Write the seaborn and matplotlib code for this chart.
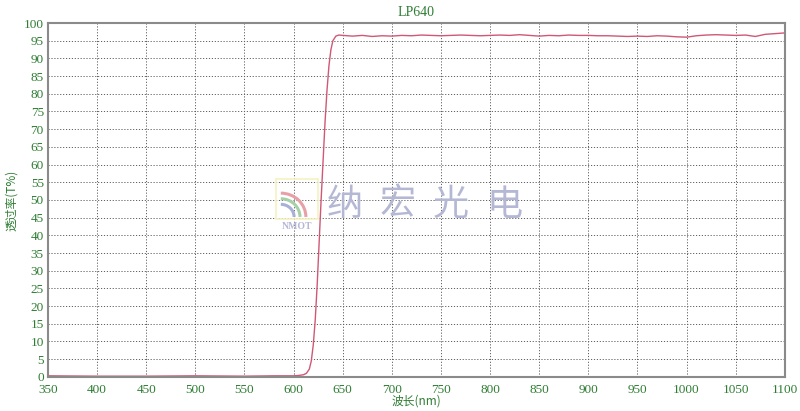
import numpy as np
import pandas as pd
import matplotlib
matplotlib.use("Agg")
import matplotlib.pyplot as plt
import matplotlib.patches as mpatches
import seaborn as sns

# transmission curve of LP640 long-pass filter
wavelength = [350, 400, 450, 500, 550, 580, 600, 605, 610, 613, 616, 618, 620, 622, 624,
              626, 628, 630, 632, 634, 636, 638, 640, 643, 646,
              650, 660, 670, 680, 690, 700, 710, 720, 730, 740, 750, 760, 770, 780, 790,
              800, 810, 820, 830, 840, 850, 860, 870, 880, 890, 900, 910, 920, 930, 940,
              950, 960, 970, 980, 990, 1000, 1010, 1020, 1030, 1040, 1050, 1060, 1070,
              1080, 1090, 1100]
transmission = [0.3, 0.2, 0.2, 0.3, 0.2, 0.3, 0.3, 0.4, 0.6, 1.0, 2.2, 4.5, 9.0, 16.0, 26.0,
                38.0, 50.0, 61.0, 72.0, 81.0, 88.0, 92.5, 95.0, 96.3, 96.6,
                96.5, 96.3, 96.5, 96.2, 96.4, 96.3, 96.5, 96.4, 96.6, 96.5, 96.4, 96.5, 96.6,
                96.5, 96.4, 96.5, 96.6, 96.5, 96.7, 96.5, 96.3, 96.5, 96.4, 96.6, 96.5,
                96.5, 96.4, 96.4, 96.3, 96.2, 96.3, 96.2, 96.4, 96.3, 96.1, 96.0, 96.4,
                96.6, 96.7, 96.6, 96.5, 96.6, 96.2, 96.8, 97.0, 97.2]

x_ticks = list(range(350, 1101, 50))
y_ticks = list(range(0, 101, 5))
watermark = ["纳", "宏", "光", "电"]

df = pd.DataFrame({"wl": wavelength, "T": transmission})

sns.set_style("white")
plt.rcParams['font.family'] = ['Liberation Serif', 'Noto Sans CJK SC', 'DejaVu Sans']

green = "#2e7d32"
cjk = ['Noto Sans CJK SC', 'DejaVu Sans']
fig = plt.figure(figsize=(8, 4.11), dpi=100)
ax = fig.add_axes([0.06, 0.083, 0.921, 0.861])

sns.lineplot(data=df, x="wl", y="T", ax=ax, color="#d05876", linewidth=1.0)

ax.set_xlim(350, 1100)
ax.set_ylim(0, 100)
ax.set_xticks(x_ticks)
ax.set_yticks(y_ticks)
ax.tick_params(axis="both", length=0, labelsize=9.5, labelcolor=green)
ax.tick_params(axis="x", pad=5)
ax.tick_params(axis="y", pad=3)
ax.grid(True, linestyle=(0, (1.2, 1.8)), color="#606060", linewidth=0.7)
for s in ax.spines.values():
    s.set_color("#8a8a8a")
    s.set_linewidth(1.5)

ax.set_title("LP640", color=green, fontsize=10, pad=5)
ax.set_xlabel("波长(nm)", color=green, fontsize=8.5, family=cjk, labelpad=-1)
ax.set_ylabel("透过率(T%)", color=green, fontsize=8.5, family=cjk, labelpad=4)

# watermark: logo box with arcs, then the company name
ax.add_patch(mpatches.Rectangle((0.31, 0.445), 0.056, 0.115, transform=ax.transAxes,
                                facecolor="none", edgecolor="#f5f2c0", linewidth=1.2))
for k, c in enumerate(["#e8a0a8", "#a8d0a8", "#a8b0d8"]):
    r = 0.034 - k * 0.008
    ax.add_patch(mpatches.Arc((0.316, 0.452), 2 * r, 2 * r * 737 / 354 * 0.95,
                              theta1=0, theta2=90, transform=ax.transAxes,
                              color=c, linewidth=2.2))
ax.text(0.338, 0.424, "NMOT", transform=ax.transAxes, fontsize=7, fontweight="bold",
        color="#b5b8d4", va="center", ha="center")
for i, ch in enumerate(watermark):
    ax.text(0.403 + i * 0.072, 0.487, ch, transform=ax.transAxes, fontsize=26,
            color="#b5b8d4", family=cjk, va="center", ha="center")

fig.savefig("out.png", dpi=100)
